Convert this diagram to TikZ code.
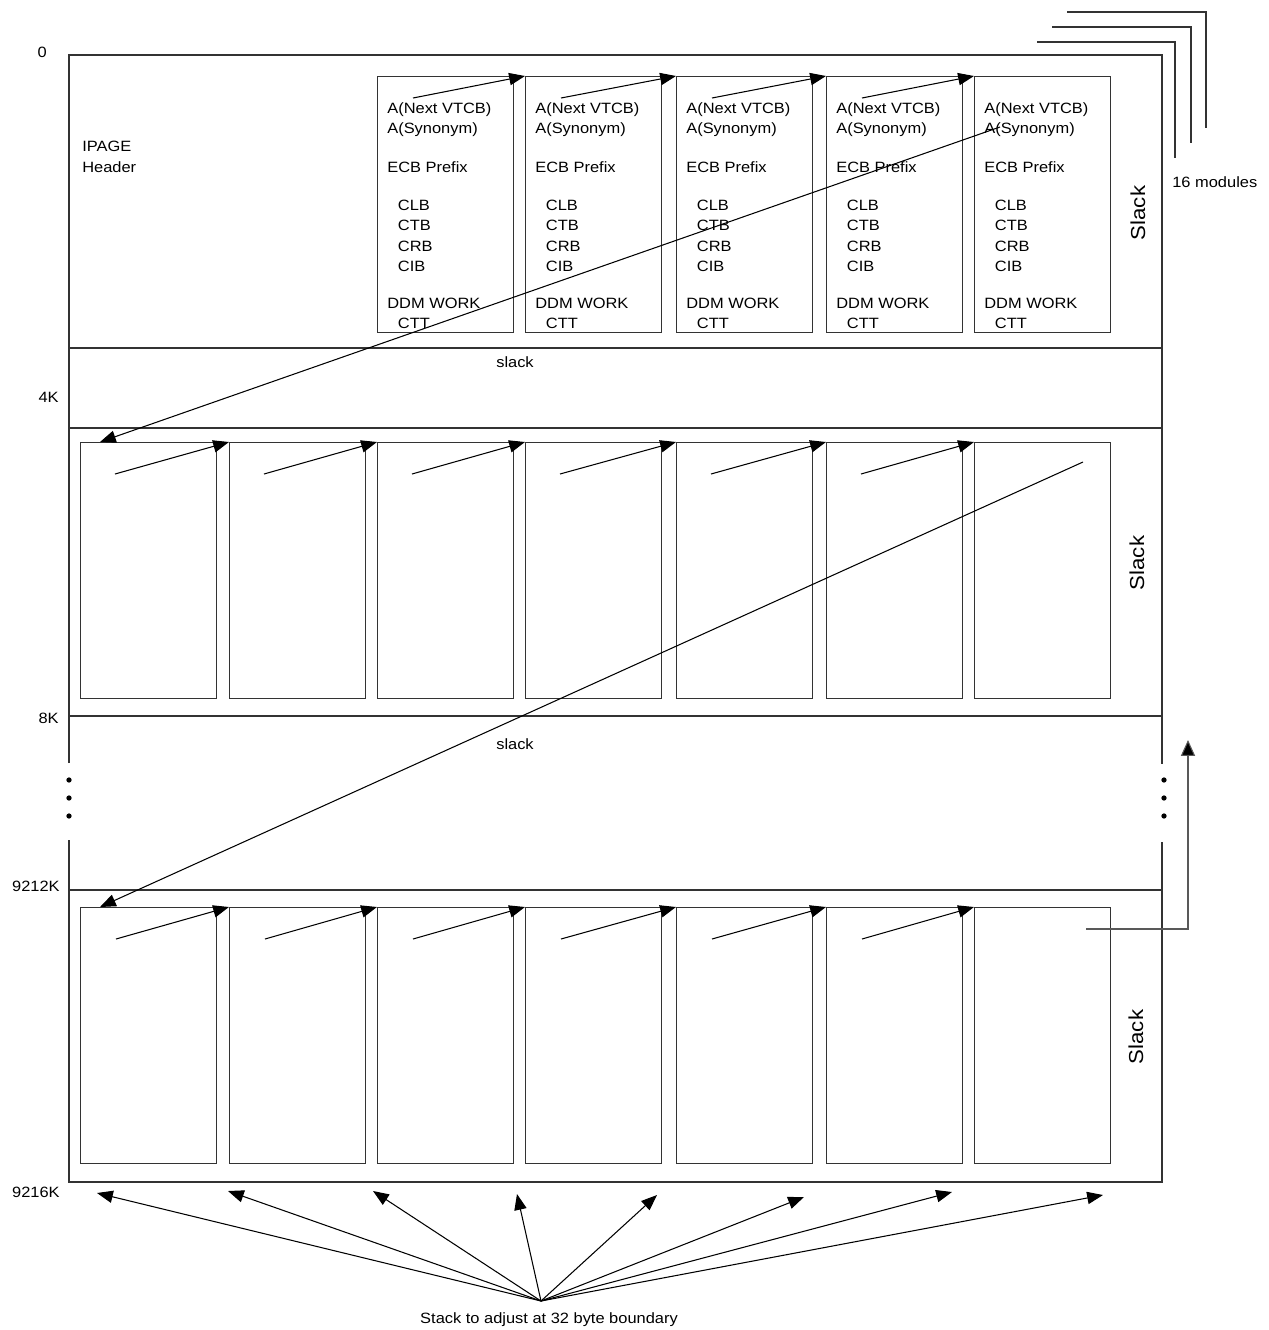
\documentclass[tikz,border=0pt]{standalone}
\usepackage{fontspec}
\setmainfont[FakeStretch=1.1]{Liberation Sans}
\usepackage{tikz}
\usetikzlibrary{arrows.meta,calc}
\tikzset{
  module/.style={
    draw=black!80,
    line width=0.6pt,
    minimum width=2.72cm,
    minimum height=5.12cm,
    inner sep=0pt
  },
  fields/.style={
    anchor=north west,
    align=left,
    inner sep=0pt,
    font=\fontsize{8.5}{11.6}\selectfont
  },
  lbl/.style={inner sep=0pt, font=\fontsize{8.5}{10}\selectfont},
  slacklbl/.style={inner sep=0pt, rotate=90, font=\fontsize{11.5}{12}\selectfont},
  frame/.style={draw=black!80, line width=0.6pt},
  link/.style={-{Triangle[length=9pt,width=7pt]}, line width=0.6pt}
}

\begin{document}
\begin{tikzpicture}[x=0.02cm, y=-0.02cm]
  \useasboundingbox (0,0) rectangle (1269,1330);

  % page frame, broken where the pages are left out
  \draw[frame] (69,763) -- (69,55) -- (1162,55) -- (1162,764);
  \draw[frame] (69,840) -- (69,1182) -- (1162,1182) -- (1162,842);
  \foreach \y in {348,428,716,890}
    \draw[frame] (69,\y) -- (1162,\y);
  \foreach \xa/\ya/\xb/\yb in {1037/42/1175/158, 1052/27/1191/143, 1067/12/1206/128}
    \draw[frame] (\xa,\ya) -| (\xb,\yb);
  \foreach \y in {780,798,816} {
    \fill (69,\y) circle[radius=1.5pt];
    \fill (1164,\y) circle[radius=1.5pt];
  }

  \node[lbl, anchor=east] (k0) at (47,52) {0};
  \node[lbl, anchor=east] (k4) at (59,397) {4K};
  \node[lbl, anchor=east] (k8) at (59,718) {8K};
  \node[lbl, anchor=east] (k9212) at (60,886) {9212K};
  \node[lbl, anchor=east] (k9216) at (60,1192) {9216K};
  \node[fields] (hdr) at (82,141) {IPAGE\\Header};
  \node[lbl, anchor=west] (mods) at (1172,182) {16 modules};
  \node[lbl] (slk1) at (515,362) {slack};
  \node[lbl] (slk2) at (515,744) {slack};
  \node[slacklbl] (sl1) at (1138,213) {Slack};
  \node[slacklbl] (sl2) at (1137,563) {Slack};
  \node[slacklbl] (sl3) at (1136,1037) {Slack};

  % first page: modules with their fields
  \foreach \i/\x in {1/377,2/525,3/676,4/826,5/974} {
    \node[module, anchor=north west] (a\i) at (\x,76) {};
    \node[fields] (f\i) at ($(a\i.north west)+(10,26)$)
      {A(Next VTCB)\\A(Synonym)\\[10.5pt]ECB Prefix\\[10pt]\hspace*{6pt}CLB\\\hspace*{6pt}CTB\\\hspace*{6pt}CRB\\\hspace*{6pt}CIB\\[9.4pt]DDM WORK\\\hspace*{6pt}CTT};
    \coordinate (an\i) at ($(a\i.north west)+(36,22)$);
  }
  % second and last page
  \foreach \i/\x in {1/80,2/229,3/377,4/525,5/676,6/826,7/974} {
    \node[module, anchor=north west] (b\i) at (\x,442) {};
    \node[module, anchor=north west] (c\i) at (\x,907) {};
    \coordinate (bn\i) at ($(b\i.north west)+(35,32)$);
    \coordinate (cn\i) at ($(c\i.north west)+(36,32)$);
  }

  \foreach \i [count=\j from 2] in {1,...,4}
    \draw[link] (an\i) -- (a\j.north west);
  \foreach \i [count=\j from 2] in {1,...,6} {
    \draw[link] (bn\i) -- (b\j.north west);
    \draw[link] (cn\i) -- (c\j.north west);
  }

  \coordinate (syn) at ($(a5.north west)+(26,51)$);
  \coordinate (next2) at ($(b1.north west)+(20,0)$);
  \coordinate (last2) at ($(b7.north west)+(109,20)$);
  \coordinate (next3) at ($(c1.north west)+(20,0)$);
  \coordinate (last3) at ($(c7.north west)+(112,22)$);
  \coordinate (back) at (1188,740);
  \draw[link] (syn) -- (next2);
  \draw[link] (last2) -- (next3);
  \draw[link, draw=black!65, -{Triangle[length=9pt,width=8pt,fill=black]}] (last3) -| (back);

  % stack alignment
  \node[lbl] (stack) at (549,1320) {Stack to adjust at 32 byte boundary};
  \coordinate (apex) at (541,1301);
  \foreach \x/\y [count=\n] in {97/1193,228/1191,373/1191,517/1194,657/1195,804/1197,952/1192,1103/1195} {
    \coordinate (t\n) at (\x,\y);
    \draw[link] (apex) -- (t\n);
  }
\end{tikzpicture}
\end{document}
